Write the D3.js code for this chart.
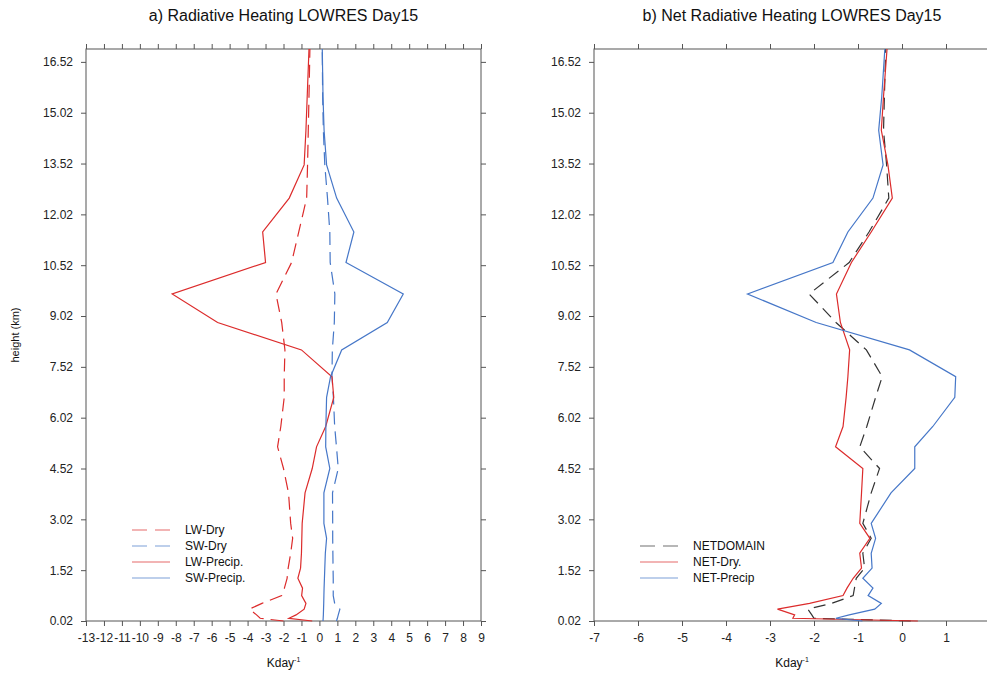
<!DOCTYPE html>
<html>
<head>
<meta charset="utf-8">
<script src="https://cdn.jsdelivr.net/npm/d3@7"></script>
<style>
  body { margin: 0; background: #fff; }
  svg { display: block; font-family: "Liberation Sans", Arial, sans-serif; }
  .frame { fill: none; stroke: #555; stroke-width: 1; }
  .tick text { fill: #222; font-size: 12px; }
  .tick line, .domain { stroke: #555; }
</style>
</head>
<body>
<svg id="chart" width="987" height="673"></svg>
<script>
// Model levels (km), shared by every profile.
const levels = [0.02, 0.1, 0.2, 0.37, 0.54, 0.77, 0.99, 1.28, 1.58, 2.02, 2.46, 2.9, 3.8, 4.52,
  5.16, 5.76, 6.62, 7.23, 8.02, 8.83, 9.67, 10.6, 11.5, 12.5, 13.48, 14.5, 15.5, 16.9];

// Panel a: radiative heating (K/day).
const lwDry = [-2.0, -3.3, -3.5, -3.9, -3.2, -2.1, -1.95, -1.8, -1.74, -1.6, -1.49, -1.6, -1.72, -2.0,
  -2.33, -2.15, -1.96, -1.96, -1.92, -2.1, -2.42, -1.55, -1.15, -0.71, -0.66, -0.62, -0.58, -0.53];
const swDry = [0.95, 1.0, 1.05, 1.14, 0.85, 0.77, 0.77, 0.77, 0.76, 0.75, 0.74, 0.74, 0.73, 1.05,
  0.95, 0.85, 0.78, 0.7, 0.72, 0.83, 0.86, 0.6, 0.58, 0.45, 0.3, 0.22, 0.18, 0.16];
const lwPrecip = [-0.4, -1.7, -1.3, -0.85, -0.75, -0.99, -0.94, -1.2, -1.05, -1.0, -0.98, -0.96, -0.8, -0.4,
  -0.16, 0.35, 0.8, 0.7, -1.0, -5.67, -8.2, -3.0, -3.16, -1.68, -0.85, -0.75, -0.68, -0.58];
const swPrecip = [0.2, 0.21, 0.22, 0.23, 0.24, 0.25, 0.26, 0.28, 0.3, 0.33, 0.4, 0.25, 0.25, 0.58,
  0.35, 0.36, 0.4, 0.62, 1.24, 3.78, 4.67, 1.48, 1.92, 0.96, 0.4, 0.26, 0.2, 0.16];

// Panel b: net radiative heating (K/day).
const netDomain = [0.2, -2.0, -2.05, -2.14, -1.6, -1.11, -1.08, -1.04, -0.85, -0.89, -0.7, -0.89, -0.7, -0.51,
  -0.96, -0.8, -0.6, -0.45, -0.81, -1.5, -2.11, -1.2, -0.75, -0.3, -0.35, -0.42, -0.4, -0.37];
const netDry = [0.36, -2.48, -2.44, -2.83, -2.1, -1.34, -1.25, -1.11, -0.92, -0.96, -0.73, -0.96, -0.92, -0.89,
  -1.51, -1.34, -1.27, -1.23, -1.19, -1.4, -1.49, -1.15, -0.7, -0.22, -0.32, -0.47, -0.42, -0.34];
const netPrecip = [-0.9, -1.5, -1.2, -0.62, -0.47, -0.77, -0.66, -0.89, -0.68, -0.7, -0.6, -0.7, -0.25, 0.29,
  0.29, 0.7, 1.2, 1.22, 0.17, -1.95, -3.51, -1.57, -1.23, -0.66, -0.43, -0.53, -0.46, -0.39];

// Tick labels.
const heightTicks = [0.02, 1.52, 3.02, 4.52, 6.02, 7.52, 9.02, 10.52, 12.02, 13.52, 15.02, 16.52];
const xTicksA = d3.range(-13, 10);
const xTicksB = d3.range(-7, 3);

const red = '#dc2b2b';
const blue = '#4677c8';
const dark = '#333';

const svg = d3.select('#chart');
const plotTop = 49, plotBottom = 621;

const y = d3.scaleLinear().domain([0.02, 16.9]).range([plotBottom, plotTop]);

function panel(opts) {
  const x = d3.scaleLinear().domain(opts.domain).range(opts.range);
  const g = svg.append('g');

  // Axes, ticks pointing outward on all four sides.
  g.append('g')
    .attr('transform', `translate(0,${plotBottom})`)
    .call(d3.axisBottom(x).tickValues(opts.xTicks).tickSize(5).tickPadding(7).tickFormat(d => String(d)))
    .call(a => a.select('.domain').remove());
  g.append('g')
    .attr('transform', `translate(0,${plotTop})`)
    .call(d3.axisTop(x).tickValues(opts.xTicks).tickSize(5).tickFormat(''))
    .call(a => a.select('.domain').remove());
  g.append('g')
    .attr('transform', `translate(${opts.range[0]},0)`)
    .call(d3.axisLeft(y).tickValues(heightTicks).tickSize(5).tickPadding(8).tickFormat(d => d.toFixed(2)))
    .call(a => a.select('.domain').remove());
  g.append('g')
    .attr('transform', `translate(${opts.range[1]},0)`)
    .call(d3.axisRight(y).tickValues(heightTicks).tickSize(5).tickFormat(''))
    .call(a => a.select('.domain').remove());

  g.append('rect')
    .attr('class', 'frame')
    .attr('x', opts.range[0])
    .attr('y', plotTop)
    .attr('width', opts.range[1] - opts.range[0])
    .attr('height', plotBottom - plotTop);

  // Profiles.
  const line = d3.line().x(d => x(d[0])).y(d => y(d[1]));
  opts.series.forEach(s => {
    g.append('path')
      .datum(s.values.map((v, i) => [v, levels[i]]))
      .attr('d', line)
      .attr('fill', 'none')
      .attr('stroke', s.color)
      .attr('stroke-width', 1.2)
      .attr('stroke-dasharray', s.dash || null);
  });

  // Title.
  const cx = (opts.range[0] + opts.range[1]) / 2;
  g.append('text')
    .attr('x', cx)
    .attr('y', 21)
    .attr('text-anchor', 'middle')
    .style('font-size', '16px')
    .style('fill', '#111')
    .text(opts.title);

  // X label.
  const xl = g.append('text')
    .attr('x', cx)
    .attr('y', 667)
    .attr('text-anchor', 'middle')
    .style('font-size', '12px')
    .style('fill', '#111');
  xl.append('tspan').text('Kday');
  xl.append('tspan').attr('dy', -5).style('font-size', '7px').text('-1');

  // Legend.
  const leg = g.append('g');
  opts.series.forEach((s, i) => {
    const ly = opts.legend.y + i * 16;
    leg.append('line')
      .attr('x1', opts.legend.x)
      .attr('x2', opts.legend.x + 38)
      .attr('y1', ly)
      .attr('y2', ly)
      .attr('stroke', s.color)
      .attr('stroke-opacity', 0.7)
      .attr('stroke-width', 1.2)
      .attr('stroke-dasharray', s.dash ? '15,8' : null);
    leg.append('text')
      .attr('x', opts.legend.tx)
      .attr('y', ly + 4)
      .style('font-size', '12px')
      .style('fill', '#111')
      .text(s.name);
  });
}

panel({
  domain: [-13, 9],
  range: [86, 481],
  xTicks: xTicksA,
  title: 'a) Radiative Heating LOWRES Day15',
  legend: { x: 132, tx: 185, y: 530 },
  series: [
    { name: 'LW-Dry', values: lwDry, color: red, dash: '13,7' },
    { name: 'SW-Dry', values: swDry, color: blue, dash: '13,7' },
    { name: 'LW-Precip.', values: lwPrecip, color: red },
    { name: 'SW-Precip.', values: swPrecip, color: blue }
  ]
});

panel({
  domain: [-7, 2],
  range: [594, 990],
  xTicks: xTicksB,
  title: 'b) Net Radiative Heating LOWRES Day15',
  legend: { x: 640, tx: 693, y: 546 },
  series: [
    { name: 'NETDOMAIN', values: netDomain, color: dark, dash: '12,7' },
    { name: 'NET-Dry.', values: netDry, color: red },
    { name: 'NET-Precip', values: netPrecip, color: blue }
  ]
});

// Y axis label, left panel only.
svg.append('text')
  .attr('transform', 'translate(19,335) rotate(-90)')
  .attr('text-anchor', 'middle')
  .style('font-size', '11px')
  .style('fill', '#111')
  .text('height (km)');
</script>
</body>
</html>
